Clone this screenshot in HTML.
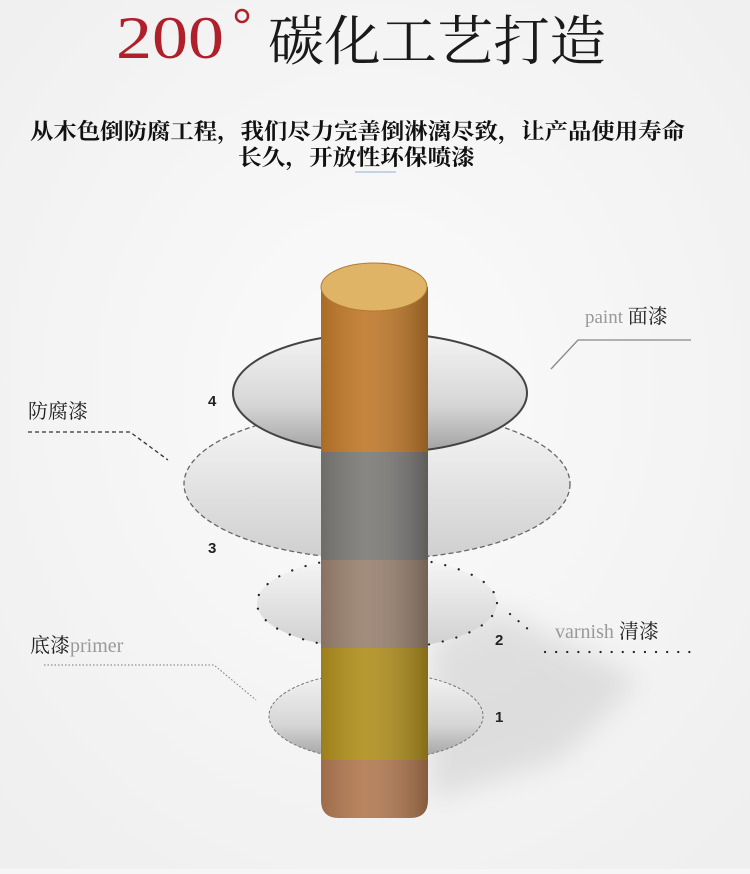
<!DOCTYPE html>
<html><head><meta charset="utf-8"><style>
html,body{margin:0;padding:0;background:#f6f6f6;}
body{width:750px;height:869px;overflow:hidden;position:relative;font-family:"Liberation Serif","Noto Serif CJK SC",serif;}
</style></head><body>
<svg width="750" height="869" viewBox="0 0 750 869" xmlns="http://www.w3.org/2000/svg">
<defs>
<radialGradient id="bg" cx="0.5" cy="0.45" r="0.7"><stop offset="0" stop-color="#fbfbfb"/><stop offset="1" stop-color="#efefef"/></radialGradient>
<linearGradient id="ringg" x1="0" y1="0" x2="0" y2="1"><stop offset="0" stop-color="#f4f4f4"/><stop offset="0.6" stop-color="#d6d6d6"/><stop offset="1" stop-color="#a0a0a0"/></linearGradient>
<linearGradient id="ringl" x1="0" y1="0" x2="0" y2="1"><stop offset="0" stop-color="#f7f7f7"/><stop offset="1" stop-color="#cfcfcf"/></linearGradient>
<linearGradient id="shade" x1="0" y1="0" x2="1" y2="0"><stop offset="0" stop-color="#000" stop-opacity="0.12"/><stop offset="0.4" stop-color="#fff" stop-opacity="0.08"/><stop offset="1" stop-color="#000" stop-opacity="0.25"/></linearGradient>
<filter id="blur"><feGaussianBlur stdDeviation="14"/></filter>
<clipPath id="cyl"><path d="M321 287 H428 V800 Q428 818 410 818 H339 Q321 818 321 800 Z"/></clipPath>
</defs>
<rect width="750" height="869" fill="url(#bg)"/>
<polygon points="430,640 500,610 640,680 560,760 430,800" fill="#b5b5b5" opacity="0.35" filter="url(#blur)"/>
<!-- title -->
<text x="116" y="58" font-size="60" fill="#b0202a" font-family="Liberation Serif,serif" textLength="108" lengthAdjust="spacingAndGlyphs">200</text>
<circle cx="242" cy="16" r="6" fill="none" stroke="#b0202a" stroke-width="2.5"/>
<text x="268" y="60" font-size="54" fill="#1a1a1a" textLength="338" lengthAdjust="spacingAndGlyphs">碳化工艺打造</text>
<text x="30" y="139" font-size="22" fill="#111" font-weight="bold" textLength="655" lengthAdjust="spacingAndGlyphs">从木色倒防腐工程，我们尽力完善倒淋漓尽致，让产品使用寿命</text>
<text x="238" y="165" font-size="22" fill="#111" font-weight="bold" textLength="237" lengthAdjust="spacingAndGlyphs">长久，开放性环保喷漆</text>
<line x1="355" y1="172" x2="396" y2="172" stroke="#8fb0d0" stroke-width="1"/>
<!-- ring 3 -->
<ellipse cx="377" cy="484" rx="193" ry="75" fill="url(#ringl)" stroke="#666" stroke-width="1.3" stroke-dasharray="5,3"/>
<!-- ring 4 -->
<ellipse cx="380" cy="393" rx="147" ry="60" fill="url(#ringg)" stroke="#444" stroke-width="2"/>
<!-- ring 2 -->
<ellipse cx="377" cy="603" rx="120" ry="46" fill="url(#ringl)" stroke="#222" stroke-width="2.2" stroke-dasharray="0.1,14" stroke-linecap="round"/>
<!-- ring 1 -->
<ellipse cx="376" cy="716" rx="107" ry="44" fill="url(#ringg)" stroke="#777" stroke-width="1" stroke-dasharray="3,2"/>
<!-- cylinder -->
<g clip-path="url(#cyl)">
<rect x="321" y="287" width="107" height="166" fill="#c07a2c"/>
<rect x="321" y="452" width="107" height="108" fill="#7d7b78"/>
<rect x="321" y="560" width="107" height="88" fill="#9a8270"/>
<rect x="321" y="648" width="107" height="112" fill="#b1901f"/>
<rect x="321" y="760" width="107" height="60" fill="#b27a52"/>
<rect x="321" y="287" width="107" height="531" fill="url(#shade)"/>
</g>
<ellipse cx="374" cy="287" rx="53" ry="24" fill="#e0b466"/>
<ellipse cx="374" cy="287" rx="53" ry="24" fill="none" stroke="#b07a30" stroke-width="1"/>
<!-- numbers -->
<g font-family="Liberation Sans,sans-serif" font-size="15" font-weight="bold" fill="#222">
<text x="208" y="406">4</text><text x="208" y="553">3</text><text x="495" y="645">2</text><text x="495" y="722">1</text></g>
<!-- labels -->
<text x="585" y="323" font-size="19" fill="#999">paint <tspan fill="#222" font-size="20">面漆</tspan></text>
<polyline points="551,369 578,340 691,340" fill="none" stroke="#888" stroke-width="1.3"/>
<text x="28" y="418" font-size="20" fill="#222">防腐漆</text>
<polyline points="28,432 130,432 168,460" fill="none" stroke="#333" stroke-width="1.3" stroke-dasharray="4,3"/>
<text x="555" y="638" font-size="20" fill="#999">varnish <tspan fill="#222">清漆</tspan></text>
<line x1="545" y1="652" x2="700" y2="652" stroke="#222" stroke-width="2.2" stroke-dasharray="0.1,11" stroke-linecap="round"/>
<line x1="510" y1="614" x2="535" y2="635" stroke="#222" stroke-width="2.2" stroke-dasharray="0.1,11" stroke-linecap="round"/>
<text x="30" y="652" font-size="20" fill="#222">底漆<tspan fill="#999">primer</tspan></text>
<polyline points="44,665 214,665 256,700" fill="none" stroke="#777" stroke-width="1" stroke-dasharray="1.5,2"/>
</svg>
</body></html>
